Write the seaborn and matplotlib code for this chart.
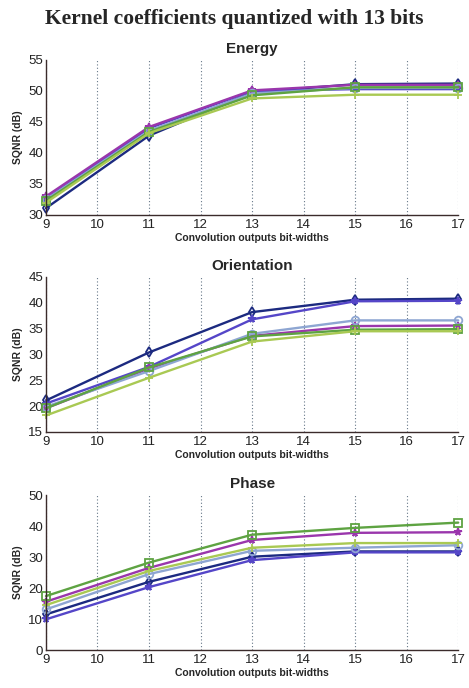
import pandas as pd
import matplotlib
matplotlib.use("Agg")
import matplotlib.pyplot as plt
import seaborn as sns

# bit-widths on the x axis
bits = [9, 11, 13, 15, 17]
series = ["s1", "s2", "s3", "s4", "s5", "s6"]

# Energy panel
energy = {
    "s1": [31.1, 42.8, 49.8, 51.1, 51.2],
    "s2": [32.6, 44.0, 50.0, 50.3, 50.3],
    "s3": [33.0, 44.2, 50.1, 51.0, 51.0],
    "s4": [32.5, 43.6, 49.6, 50.5, 50.5],
    "s5": [32.3, 43.4, 49.3, 50.6, 50.6],
    "s6": [32.0, 43.2, 48.8, 49.4, 49.4],
}
# Orientation panel
orientation = {
    "s1": [21.1, 30.4, 38.2, 40.6, 40.8],
    "s2": [20.5, 27.6, 36.8, 40.3, 40.4],
    "s3": [19.6, 27.3, 33.6, 35.5, 35.6],
    "s4": [19.9, 26.8, 34.0, 36.6, 36.6],
    "s5": [19.6, 27.5, 33.5, 34.8, 34.9],
    "s6": [18.2, 25.5, 32.5, 34.5, 34.5],
}
# Phase panel
phase = {
    "s1": [11.5, 22.0, 30.1, 31.8, 31.8],
    "s2": [9.9, 20.3, 29.0, 31.5, 31.5],
    "s3": [15.6, 26.5, 35.5, 37.8, 38.0],
    "s4": [13.1, 24.5, 32.0, 33.0, 33.8],
    "s5": [17.4, 28.2, 37.2, 39.4, 41.1],
    "s6": [14.5, 25.5, 33.0, 34.5, 34.5],
}

colors = {"s1": "#1c2a80", "s2": "#5546c8", "s3": "#9a36ac",
          "s4": "#8ea6d2", "s5": "#5ea342", "s6": "#a9c953"}
# seaborn won't mix filled and line-art markers, "+" is set afterwards
markers = {"s1": "d", "s2": "*", "s3": "*", "s4": "o", "s5": "s", "s6": "P"}
line_markers = {"s6": "+"}

panels = [("Energy", energy, (30, 55), range(30, 56, 5), [0.098, 0.6875, 0.879, 0.2253]),
          ("Orientation", orientation, (15, 45), range(15, 46, 5), [0.098, 0.3721, 0.879, 0.2253]),
          ("Phase", phase, (0, 50), range(0, 51, 10), [0.098, 0.0552, 0.879, 0.2253])]

sns.set_style("white")
plt.rcParams["font.family"] = ["Liberation Sans", "DejaVu Sans"]

fig = plt.figure(figsize=(4.69, 6.88), dpi=100)
fig.text(0.5, 0.972, "Kernel coefficients quantized with 13 bits",
         ha="center", va="center", fontsize=15.5, fontweight="bold",
         family=["Liberation Serif", "DejaVu Serif"])

spine_col = "#3b2b2b"
for title, data, ylim, yticks, rect in panels:
    rows = []
    for s in series:
        for b, v in zip(bits, data[s]):
            rows.append({"bits": b, "sqnr": v, "series": s})
    df = pd.DataFrame(rows)
    ax = fig.add_axes(rect)
    sns.lineplot(data=df, x="bits", y="sqnr", hue="series", style="series",
                 palette=colors, markers=markers, dashes=False, ax=ax,
                 legend=False, linewidth=1.7, markersize=5.5)
    for s, line in zip(series, ax.lines):
        c = line.get_color()
        if s in line_markers:
            line.set_marker(line_markers[s])
        line.set_markeredgecolor(c)
        line.set_markerfacecolor("none")
        line.set_markeredgewidth(1.3)
        line.set_clip_on(False)
    ax.set_xlim(9, 17)
    ax.set_ylim(*ylim)
    ax.set_xticks(range(9, 18))
    ax.set_yticks(list(yticks))
    ax.tick_params(axis="both", labelsize=9.5, direction="in", length=4,
                   color=spine_col, labelcolor="#222222", pad=2)
    ax.tick_params(axis="x", length=0, pad=3)
    ax.grid(axis="x", linestyle=(0, (1, 2)), color="#667788", linewidth=0.8)
    ax.grid(axis="y", visible=False)
    for side in ["top", "right"]:
        ax.spines[side].set_visible(False)
    for side in ["left", "bottom"]:
        ax.spines[side].set_color(spine_col)
        ax.spines[side].set_linewidth(1.0)
    ax.set_title(title, fontsize=11, fontweight="bold", pad=5)
    ax.set_xlabel("Convolution outputs bit-widths", fontsize=7.5, fontweight="bold", labelpad=1)
    ax.set_ylabel("SQNR (dB)", fontsize=7.5, fontweight="bold", labelpad=4)

fig.savefig("out.png", dpi=100)
